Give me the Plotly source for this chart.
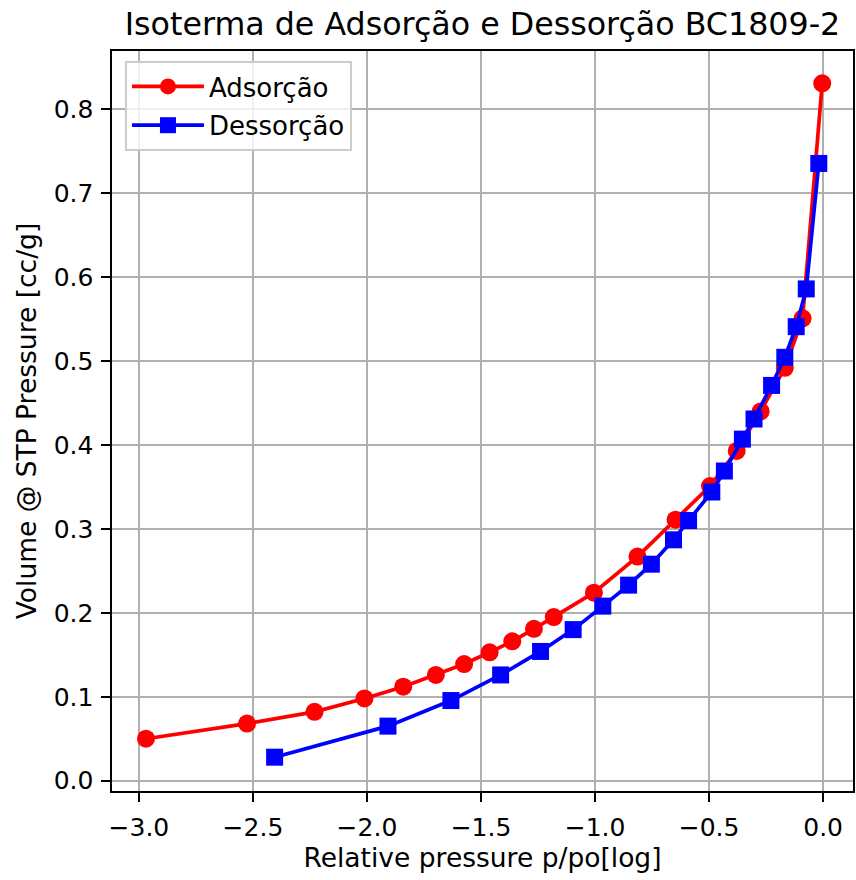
import plotly.graph_objects as go

# Data (log10 relative pressure, volume)
ads_x = [-2.969, -2.526, -2.230, -2.011, -1.841, -1.698, -1.574, -1.462, -1.363, -1.268,
         -1.181, -1.005, -0.814, -0.647, -0.496, -0.379, -0.274, -0.168, -0.090, -0.004]
ads_y = [0.050, 0.068, 0.082, 0.098, 0.112, 0.126, 0.139, 0.153, 0.166, 0.181,
         0.195, 0.224, 0.267, 0.311, 0.351, 0.393, 0.440, 0.492, 0.551, 0.831]

des_x = [-2.405, -1.908, -1.632, -1.414, -1.239, -1.096, -0.966, -0.853, -0.753, -0.656,
         -0.590, -0.488, -0.433, -0.354, -0.303, -0.226, -0.168, -0.118, -0.074, -0.019]
des_y = [0.028, 0.065, 0.0955, 0.126, 0.154, 0.180, 0.208, 0.233, 0.258, 0.287,
         0.310, 0.344, 0.369, 0.407, 0.431, 0.471, 0.5045, 0.541, 0.586, 0.7355]

x_ticks = [-3.0, -2.5, -2.0, -1.5, -1.0, -0.5, 0.0]
y_ticks = [0.0, 0.1, 0.2, 0.3, 0.4, 0.5, 0.6, 0.7, 0.8]

title_text = "Isoterma de Adsorção e Dessorção BC1809-2"
x_label = "Relative pressure p/po[log]"
y_label = "Volume @ STP Pressure [cc/g]"

FONT = "DejaVu Sans"

fig = go.Figure()
fig.add_trace(go.Scatter(
    x=ads_x, y=ads_y, mode="lines+markers", name="Adsorção",
    line=dict(color="#ff0000", width=3.7),
    marker=dict(symbol="circle", size=18, color="#ff0000"),
    legendgroup="a",
))
fig.add_trace(go.Scatter(
    x=des_x, y=des_y, mode="lines+markers", name="Dessorção",
    line=dict(color="#0000ff", width=3.7),
    marker=dict(symbol="square", size=17, color="#0000ff"),
    legendgroup="d",
))

axis_common = dict(
    showline=True, linecolor="black", linewidth=2, mirror=True,
    ticks="outside", ticklen=8.6, tickwidth=2, tickcolor="black",
    showgrid=True, gridcolor="#b0b0b0", gridwidth=2,
    zeroline=False,
    tickfont=dict(family=FONT, size=25, color="black"),
)

fig.update_layout(
    width=856, height=880,
    margin=dict(l=112, r=1, t=51, b=89),
    paper_bgcolor="white", plot_bgcolor="white",
    font=dict(family=FONT, color="black"),
    title=dict(text=title_text, x=0.5, xref="paper", xanchor="center",
               y=1 - 24 / 880, yref="container", yanchor="middle",
               font=dict(family=FONT, size=31.7, color="black")),
    xaxis=dict(range=[-3.118, 0.131], tickvals=x_ticks,
               ticktext=[f"{v:.1f}".replace("-", "\u2212") for v in x_ticks],
               title=dict(text=x_label, font=dict(family=FONT, size=26.5), standoff=4),
               ticklabelstandoff=4,
               **axis_common),
    yaxis=dict(range=[-0.0123, 0.8695], tickvals=y_ticks,
               ticktext=[f"{v:.1f}" for v in y_ticks],
               title=dict(text=y_label, font=dict(family=FONT, size=26.5), standoff=9),
               ticklabelstandoff=3,
               **axis_common),
    legend=dict(x=0.0175, y=0.9865, xanchor="left", yanchor="top",
                bgcolor="rgba(255,255,255,0.8)", bordercolor="#cccccc", borderwidth=2,
                font=dict(family=FONT, size=26, color="black"),
                itemwidth=72, tracegroupgap=2),
    showlegend=True,
)

fig.write_html("out.html", post_script="document.body.style.margin='0';",
               config={"displayModeBar": False})
